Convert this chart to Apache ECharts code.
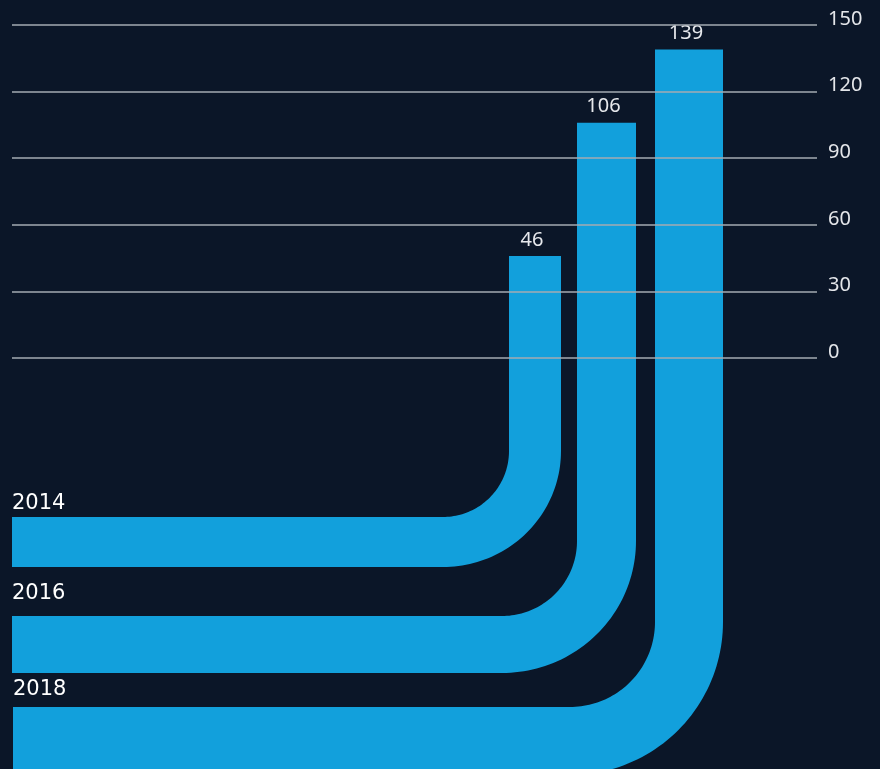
<!DOCTYPE html>
<html>
<head>
<meta charset="utf-8">
<script src="https://cdn.jsdelivr.net/npm/echarts@6/dist/echarts.min.js"></script>
<style>
html,body{margin:0;padding:0;background:#0b1628;}
#chart{width:880px;height:769px;}
</style>
</head>
<body>
<div id="chart"></div>
<script>
// ---- data ----
const years = ['2014', '2016', '2018'];
const values = [46, 106, 139];
const yTicks = [0, 30, 60, 90, 120, 150];

// ---- layout (pixel geometry of the bent bars, not data) ----
const shapes = [
  { xl: 509, xr: 561, yh: 517, yb: 567, ri: 66, x0: 12, gap: 4 },
  { xl: 577, xr: 636, yh: 616, yb: 673, ri: 75, x0: 12, gap: 13 },
  { xl: 655, xr: 723, yh: 707, yb: 775, ri: 85, x0: 13, gap: 8 }
];
const barColor = '#12a0dc';

function renderItem(params, api) {
  const i = params.dataIndex;
  const s = shapes[i];
  const top = api.coord([i, api.value(1)])[1];
  const cx = s.xl - s.ri, cy = s.yh - s.ri;
  const rox = s.xr - cx, roy = s.yb - cy;
  const pts = [[s.xl, top], [s.xr, top], [s.xr, cy]];
  const N = 48;
  for (let k = 1; k <= N; k++) {
    const a = (Math.PI / 2) * k / N;
    pts.push([cx + rox * Math.cos(a), cy + roy * Math.sin(a)]);
  }
  pts.push([s.x0, s.yb], [s.x0, s.yh], [cx, s.yh]);
  for (let k = N - 1; k >= 0; k--) {
    const a = (Math.PI / 2) * k / N;
    pts.push([cx + s.ri * Math.cos(a), cy + s.ri * Math.sin(a)]);
  }
  return {
    type: 'group',
    children: [
      { type: 'polygon', shape: { points: pts }, style: { fill: barColor } },
      {
        type: 'text',
        style: {
          text: String(api.value(1)),
          x: (s.xl + s.xr) / 2 - 3, y: top - 6,
          align: 'center', verticalAlign: 'bottom',
          fill: '#e6e8ec', font: '20px "Noto Sans"'
        }
      },
      {
        type: 'text',
        style: {
          text: years[i],
          x: s.x0, y: s.yh - s.gap + 1,
          align: 'left', verticalAlign: 'bottom',
          fill: '#ffffff', font: '21px "DejaVu Sans"'
        }
      }
    ]
  };
}

const chart = echarts.init(document.getElementById('chart'));
chart.setOption({
  backgroundColor: '#0b1628',
  animation: false,
  grid: { left: 12, right: 63, top: 25, bottom: 411 },
  xAxis: { type: 'category', data: years, show: false },
  yAxis: {
    type: 'value', position: 'right',
    min: yTicks[0], max: yTicks[yTicks.length - 1], interval: yTicks[1] - yTicks[0],
    z: 10,
    axisLine: { show: false }, axisTick: { show: false },
    splitLine: { lineStyle: { color: '#a4abb2', width: 1.5 } },
    axisLabel: {
      margin: 11, color: '#e4e6ea', fontSize: 20, fontFamily: 'Noto Sans',
      verticalAlign: 'bottom', lineHeight: 12
    }
  },
  series: [{
    type: 'custom', clip: false, z: 2,
    data: values.map((v, i) => [i, v]),
    renderItem: renderItem
  }]
});
</script>
</body>
</html>
